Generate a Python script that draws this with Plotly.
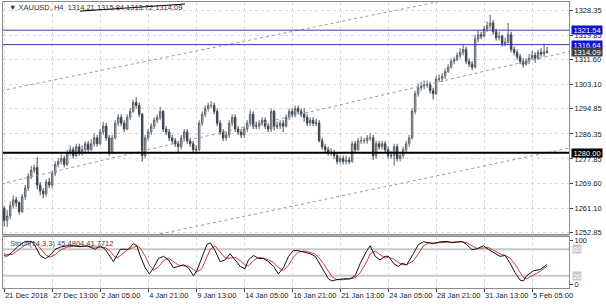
import plotly.graph_objects as go
from plotly.subplots import make_subplots

# ---------------- DATA ----------------
first_open = 1261.0
closes = [
    1257.0, 1258.5, 1262.0, 1264.0, 1263.0, 1260.0, 1265.0, 1268.0, 1272.0, 1274.0,
    1275.0, 1269.0, 1267.0, 1266.0, 1270.0, 1269.0, 1273.0, 1276.0, 1277.0, 1278.0,
    1276.0, 1280.0, 1281.0, 1279.0, 1282.0, 1280.0, 1281.0, 1283.0, 1281.0, 1283.0,
    1285.0, 1283.0, 1287.0, 1289.0, 1285.0, 1280.0, 1285.0, 1290.0, 1292.0, 1290.0,
    1288.0, 1292.0, 1294.0, 1297.0, 1296.0, 1293.0, 1279.0, 1285.0, 1287.0, 1289.0,
    1291.0, 1292.0, 1294.0, 1288.0, 1287.0, 1285.0, 1284.0, 1283.0, 1282.0, 1285.0,
    1287.0, 1284.0, 1283.0, 1281.0, 1281.0, 1290.0, 1293.0, 1295.0, 1296.0, 1296.0,
    1294.0, 1290.0, 1287.0, 1285.0, 1286.0, 1290.0, 1292.0, 1288.0, 1287.0, 1286.0,
    1288.0, 1290.0, 1293.0, 1289.0, 1289.0, 1290.0, 1291.0, 1289.0, 1288.0, 1294.0,
    1289.0, 1289.0, 1290.0, 1289.0, 1292.0, 1294.0, 1293.0, 1295.0, 1294.0, 1293.0,
    1292.0, 1290.0, 1291.0, 1290.0, 1290.0, 1284.0, 1282.0, 1281.0, 1280.0, 1280.0,
    1279.0, 1277.0, 1278.0, 1277.0, 1277.5, 1277.0, 1283.0, 1281.0, 1284.0, 1284.0,
    1284.0, 1285.0, 1285.0, 1279.0, 1283.0, 1282.0, 1283.0, 1281.0, 1279.0, 1279.0,
    1282.0, 1278.0, 1279.0, 1281.0, 1283.0, 1285.0, 1294.0, 1300.0, 1302.0, 1302.5,
    1303.0, 1303.0, 1301.0, 1300.0, 1305.0, 1305.0, 1306.0, 1307.5, 1309.0, 1311.0,
    1311.5, 1313.0, 1314.0, 1315.0, 1311.0, 1310.0, 1309.0, 1318.5, 1320.0, 1319.5,
    1322.0, 1323.0, 1324.0, 1321.0, 1319.0, 1319.5, 1317.0, 1317.5, 1320.0, 1315.0,
    1314.0, 1312.5, 1311.0, 1310.0, 1311.0, 1312.0, 1313.0, 1312.0, 1314.0, 1313.5,
    1314.21, 1314.09,
]
highs = [
    1262.0, 1260.5, 1263.5, 1265.5, 1265.0, 1263.5, 1266.0, 1269.0, 1273.0, 1275.5,
    1276.0, 1278.5, 1270.0, 1268.0, 1271.0, 1271.5, 1274.0, 1277.0, 1278.0, 1279.5,
    1279.0, 1281.0, 1282.5, 1282.0, 1283.0, 1283.0, 1282.5, 1284.0, 1284.0, 1284.5,
    1286.5, 1286.0, 1288.0, 1290.5, 1290.0, 1286.0, 1286.0, 1291.0, 1293.0, 1293.0,
    1291.0, 1293.0, 1295.0, 1298.0, 1298.8, 1297.0, 1293.5, 1286.0, 1288.0, 1290.0,
    1292.0, 1293.0, 1295.5, 1294.5, 1289.0, 1288.0, 1286.0, 1285.0, 1284.0, 1286.0,
    1288.0, 1288.0, 1285.0, 1284.0, 1282.5, 1291.0, 1294.0, 1296.0, 1297.0, 1297.5,
    1297.0, 1295.0, 1291.0, 1288.0, 1287.0, 1291.0, 1293.0, 1293.0, 1289.0, 1288.0,
    1289.0, 1291.0, 1294.5, 1294.0, 1290.5, 1291.0, 1292.0, 1292.0, 1290.0, 1295.0,
    1294.5, 1290.5, 1291.0, 1291.0, 1293.0, 1295.0, 1295.0, 1296.0, 1296.0, 1295.0,
    1295.0, 1293.0, 1292.0, 1292.0, 1291.5, 1291.0, 1285.0, 1283.0, 1282.0, 1281.5,
    1281.0, 1280.0, 1279.0, 1279.0, 1279.0, 1278.5, 1284.0, 1284.0, 1285.0, 1285.5,
    1285.0, 1286.0, 1286.5, 1286.0, 1284.0, 1284.0, 1284.0, 1284.0, 1282.0, 1280.5,
    1283.0, 1283.0, 1280.0, 1282.0, 1284.0, 1286.0, 1295.0, 1301.0, 1303.5, 1304.0,
    1304.5, 1304.5, 1304.0, 1302.0, 1306.0, 1306.5, 1307.0, 1308.5, 1310.0, 1312.0,
    1312.5, 1314.0, 1315.5, 1316.5, 1316.0, 1312.0, 1311.0, 1320.0, 1321.5, 1321.0,
    1323.0, 1324.5, 1326.7, 1325.0, 1322.0, 1321.0, 1320.0, 1319.0, 1324.0, 1321.0,
    1316.0, 1315.0, 1313.5, 1312.0, 1312.0, 1313.5, 1314.5, 1314.0, 1315.0, 1315.5,
    1317.0, 1315.84,
]
lows = [
    1255.0, 1254.8, 1257.5, 1261.0, 1261.5, 1259.0, 1259.5, 1264.0, 1267.0, 1271.0,
    1273.0, 1267.5, 1265.5, 1264.5, 1265.0, 1268.0, 1268.0, 1272.0, 1275.0, 1276.0,
    1275.0, 1275.5, 1279.0, 1278.0, 1278.5, 1279.0, 1279.0, 1280.0, 1280.0, 1280.5,
    1282.0, 1282.0, 1282.5, 1286.0, 1284.0, 1279.0, 1279.5, 1284.5, 1289.0, 1289.0,
    1287.0, 1287.5, 1291.0, 1293.5, 1295.0, 1292.0, 1277.0, 1278.0, 1284.0, 1286.0,
    1288.0, 1290.0, 1291.0, 1287.0, 1286.0, 1284.0, 1283.0, 1282.0, 1280.0, 1281.0,
    1284.0, 1283.0, 1282.0, 1280.0, 1280.0, 1280.5, 1289.0, 1292.0, 1294.0, 1295.0,
    1293.0, 1289.0, 1286.0, 1284.0, 1284.0, 1285.0, 1289.0, 1287.0, 1286.0, 1285.0,
    1285.0, 1287.0, 1289.0, 1288.0, 1288.0, 1288.0, 1289.0, 1288.0, 1287.0, 1287.0,
    1287.5, 1288.0, 1288.0, 1287.0, 1288.5, 1291.0, 1292.0, 1292.0, 1293.0, 1292.0,
    1290.5, 1289.0, 1289.0, 1289.0, 1289.0, 1283.5, 1281.0, 1280.0, 1279.0, 1279.0,
    1278.0, 1276.0, 1276.0, 1276.0, 1276.0, 1276.0, 1276.5, 1280.0, 1280.5, 1283.0,
    1283.0, 1283.0, 1284.0, 1277.5, 1278.0, 1281.0, 1281.0, 1280.0, 1278.0, 1278.0,
    1275.5, 1277.0, 1277.0, 1278.0, 1280.0, 1282.0, 1284.5, 1293.0, 1299.0, 1301.0,
    1301.5, 1302.0, 1300.0, 1298.0, 1299.5, 1304.0, 1304.0, 1305.0, 1307.0, 1308.5,
    1310.0, 1311.0, 1312.0, 1313.0, 1310.0, 1309.0, 1308.0, 1308.5, 1317.5, 1318.5,
    1319.0, 1321.0, 1322.0, 1320.0, 1318.0, 1318.0, 1316.0, 1316.0, 1317.0, 1314.0,
    1313.0, 1311.5, 1310.0, 1308.8, 1309.5, 1310.0, 1311.5, 1310.5, 1311.5, 1312.5,
    1312.5, 1313.72,
]

# Stochastic(14,3,3) (bar position, %K, %D)
stoch_pos = [0, 0.9, 2.6, 4.8, 7, 9.2, 10.3, 12, 13.7, 15.3, 17, 18.7, 20.9, 23.1, 25.3,
             27.6, 30.3, 32, 33.7, 35.3, 36.4, 37.6, 38.7, 40.3, 41.4, 43.1, 44.2, 45.3,
             47, 48.4, 49.8, 51.4, 53.1, 54.8, 56.4, 58.1, 59.8, 61.4, 63.1, 64.2, 65.9,
             67.6, 68.7, 70.3, 72, 73.7, 75.3, 77, 78.7, 80.3, 81.4, 83.1, 84.8, 86.4,
             88.1, 89.8, 91.4, 93.1, 94.8, 96.4, 98.1, 100.3, 102, 103.7, 104.8, 106.4,
             108.1, 109.2, 110.9, 113.1, 115.3, 117, 118.7, 120.9, 122, 123.7, 125.3,
             127, 128.1, 129.8, 131.4, 132.6, 134.2, 136.4, 138.1, 139.8, 141.4, 143.1,
             145.3, 147.6, 149.2, 150.9, 152.6, 154.2, 155.9, 157.6, 159.8, 161.4, 163.1,
             165.3, 167, 168.7, 170.3, 172, 173.1, 174.2, 176.4, 178.7, 181]
stoch_k = [66, 64, 73, 88, 98, 98, 88, 66, 59, 66, 80, 85, 88, 88, 86,
           88, 80, 88, 80, 64, 52, 66, 80, 80, 80, 93, 88, 66,
           38, 24, 38, 59, 64, 56, 38, 41, 45, 38, 20, 31, 59,
           91, 95, 77, 52, 56, 70, 56, 41, 36, 56, 66, 59, 59,
           52, 41, 24, 38, 64, 77, 77, 73, 70, 64, 52, 34,
           13, 8, 11, 13, 13, 20, 48, 77, 88, 64, 56,
           64, 64, 48, 41, 48, 45, 70, 91, 97, 95, 93,
           97, 98, 95, 97, 98, 91, 79, 81, 88, 80, 73,
           64, 66, 48, 27, 10, 8, 20, 31, 34, 45.48]
stoch_d = [70, 68, 68, 78, 90, 96, 95, 83, 68, 62, 68, 78, 85, 87, 87,
           87, 85, 84, 84, 76, 66, 60, 66, 76, 80, 84, 88, 84,
           64, 44, 32, 40, 54, 60, 52, 44, 42, 42, 34, 28, 36,
           62, 80, 88, 74, 60, 60, 62, 54, 44, 42, 54, 62, 60,
           56, 50, 38, 32, 44, 62, 74, 76, 73, 69, 62, 48,
           30, 18, 11, 11, 13, 15, 27, 52, 70, 76, 68,
           60, 62, 58, 50, 45, 45, 54, 70, 88, 94, 94,
           95, 96, 96, 96, 97, 95, 88, 82, 83, 84, 78,
           70, 66, 60, 46, 28, 16, 13, 22, 30, 41.77]

tick_bars = [0, 16, 32, 48, 64, 80, 96, 112, 128, 144, 160, 176]
tick_dates = ["21 Dec 2018", "27 Dec 13:00", "2 Jan 05:00", "4 Jan 21:00", "9 Jan 13:00",
              "14 Jan 05:00", "16 Jan 21:00", "21 Jan 13:00", "24 Jan 05:00",
              "28 Jan 21:00", "31 Jan 13:00", "5 Feb 05:00"]
price_ticks = [1328.35, 1319.85, 1311.60, 1303.10, 1294.85, 1286.35, 1277.85, 1269.60,
               1261.10, 1252.85]

resistance_levels = [1321.54, 1316.64]
support_level = 1280.00
last_price = 1314.09

# dashed channel lines: (bar0, price0, bar1, price1)
channel_lines = [
    (-1.0, 1301.0, 150.0, 1332.3),
    (-1.0, 1269.4, 190.0, 1314.7),
    (50.0, 1252.0, 190.0, 1281.9),
]
black_line = (25.3, 1328.0, 60.3, 1330.4)

title_text = "▼ XAUUSD, H4  1314.21 1315.84 1313.72 1314.09"
stoch_text = "Stoch(14,3,3) 45.4804 41.7712"

# ---------------- FIGURE ----------------
opens = [first_open] + closes[:-1]
bars = list(range(len(closes)))

FONT = "Liberation Sans"
FS = 7.5
W, H = 606, 305
ML, MR, MT, MB = 3, 37, 2, 17
plot_h = H - MT - MB

def py(pix):  # paper y from pixel y
    return (H - MB - pix) / plot_h

main_dom = [py(234), 1.0]
sto_dom = [0.0, py(237)]

fig = make_subplots(rows=2, cols=1, shared_xaxes=True, vertical_spacing=0.0)

fig.add_trace(go.Candlestick(
    x=bars, open=opens, high=highs, low=lows, close=closes,
    increasing=dict(line=dict(color="#5c6670", width=1), fillcolor="#c4c4c4"),
    decreasing=dict(line=dict(color="#3c4650", width=1), fillcolor="#3c4650"),
    whiskerwidth=0, showlegend=False, hoverinfo="skip"), row=1, col=1)

fig.add_trace(go.Scatter(x=stoch_pos, y=stoch_d, mode="lines",
                         line=dict(color="#d03a3a", width=1), showlegend=False,
                         hoverinfo="skip"), row=2, col=1)
fig.add_trace(go.Scatter(x=stoch_pos, y=stoch_k, mode="lines",
                         line=dict(color="#101010", width=1), showlegend=False,
                         hoverinfo="skip"), row=2, col=1)

xrange = [-0.4, 188.3]
grid = dict(showgrid=True, gridcolor="#d8d8d8", griddash="dot", gridwidth=1)
fig.update_xaxes(range=xrange, tickvals=tick_bars, **grid, automargin=False,
                 showline=True, mirror=True, linecolor="#8c8c8c", zeroline=False,
                 rangeslider_visible=False)
fig.update_xaxes(showticklabels=False, ticks="", row=1, col=1)
fig.update_xaxes(ticktext=tick_dates, showticklabels=True, ticks="outside", ticklen=3,
                 tickcolor="#404040", ticklabelposition="outside right", tickangle=0,
                 tickfont=dict(family=FONT, size=FS, color="#202020"), row=2, col=1)

fig.update_yaxes(side="right", range=[1252.4, 1331.1], tickvals=price_ticks,
                 ticktext=[f"{v:.2f}" for v in price_ticks], **grid, automargin=False,
                 ticks="outside", ticklen=3, tickcolor="#404040",
                 tickfont=dict(family=FONT, size=FS, color="#202020"),
                 showline=True, mirror=True, linecolor="#8c8c8c", zeroline=False,
                 domain=main_dom, row=1, col=1)
fig.update_yaxes(side="right", range=[-8, 108], tickvals=[0, 100], ticktext=["0", "100"],
                 showgrid=False, ticks="outside", ticklen=3, tickcolor="#404040",
                 automargin=False,
                 tickfont=dict(family=FONT, size=FS, color="#202020"),
                 showline=True, mirror=True, linecolor="#8c8c8c", zeroline=False,
                 domain=sto_dom, row=2, col=1)

shapes = []
for lv in (20, 80):
    shapes.append(dict(type="line", xref="x2 domain", yref="y2", x0=0, x1=1, y0=lv, y1=lv,
                       line=dict(color="#c8c8c8", width=2), layer="below"))
for (b0, p0, b1, p1) in channel_lines:
    shapes.append(dict(type="line", xref="x", yref="y", x0=b0, y0=p0, x1=b1, y1=p1,
                       line=dict(color="#9a9a9a", width=1, dash="3px,3px")))
b0, p0, b1, p1 = black_line
shapes.append(dict(type="line", xref="x", yref="y", x0=b0, y0=p0, x1=b1, y1=p1,
                   line=dict(color="#000000", width=1)))
for lv in resistance_levels:
    shapes.append(dict(type="line", xref="x domain", yref="y", x0=0, x1=1, y0=lv, y1=lv,
                       line=dict(color="#3a3aa8", width=1)))
shapes.append(dict(type="line", xref="x domain", yref="y", x0=0, x1=1,
                   y0=support_level, y1=support_level,
                   line=dict(color="#000000", width=2)))
shapes.append(dict(type="rect", xref="paper", yref="paper", x0=0, x1=1,
                   y0=sto_dom[1], y1=main_dom[0], fillcolor="#b4b4b4",
                   line=dict(width=0), layer="below"))

annotations = []
def price_box(val, bg):
    annotations.append(dict(x=1, xref="paper", y=val, yref="y", xanchor="left",
                            yanchor="middle", xshift=2, text=f"{val:.2f}", showarrow=False,
                            font=dict(family=FONT, size=FS, color="#ffffff"),
                            bgcolor=bg, borderpad=0, height=8, width=30))
for lv in resistance_levels:
    price_box(lv, "#1010d0")
price_box(last_price, "#3a4248")
price_box(support_level, "#000000")
for lv in (80, 20):
    annotations.append(dict(x=1, xref="paper", y=lv, yref="y2", xanchor="left",
                            yanchor="middle", xshift=3, text=str(lv), showarrow=False,
                            font=dict(family=FONT, size=FS, color="#ffffff"),
                            bgcolor="#c8c8c8", borderpad=0, height=8))
annotations.append(dict(x=(7 - ML) / (W - ML - MR), xref="paper", y=py(8), yref="paper",
                        xanchor="left", yanchor="middle", text=title_text, showarrow=False,
                        font=dict(family=FONT, size=FS, color="#303030")))
annotations.append(dict(x=(8 - ML) / (W - ML - MR), xref="paper", y=py(243), yref="paper",
                        xanchor="left", yanchor="middle", text=stoch_text, showarrow=False,
                        font=dict(family=FONT, size=FS, color="#404040")))

fig.update_layout(width=W, height=H, margin=dict(l=ML, r=MR, t=MT, b=MB),
                  paper_bgcolor="#ffffff", plot_bgcolor="#ffffff",
                  shapes=shapes, annotations=annotations, showlegend=False,
                  xaxis_rangeslider_visible=False)

fig.write_html("out.html")
